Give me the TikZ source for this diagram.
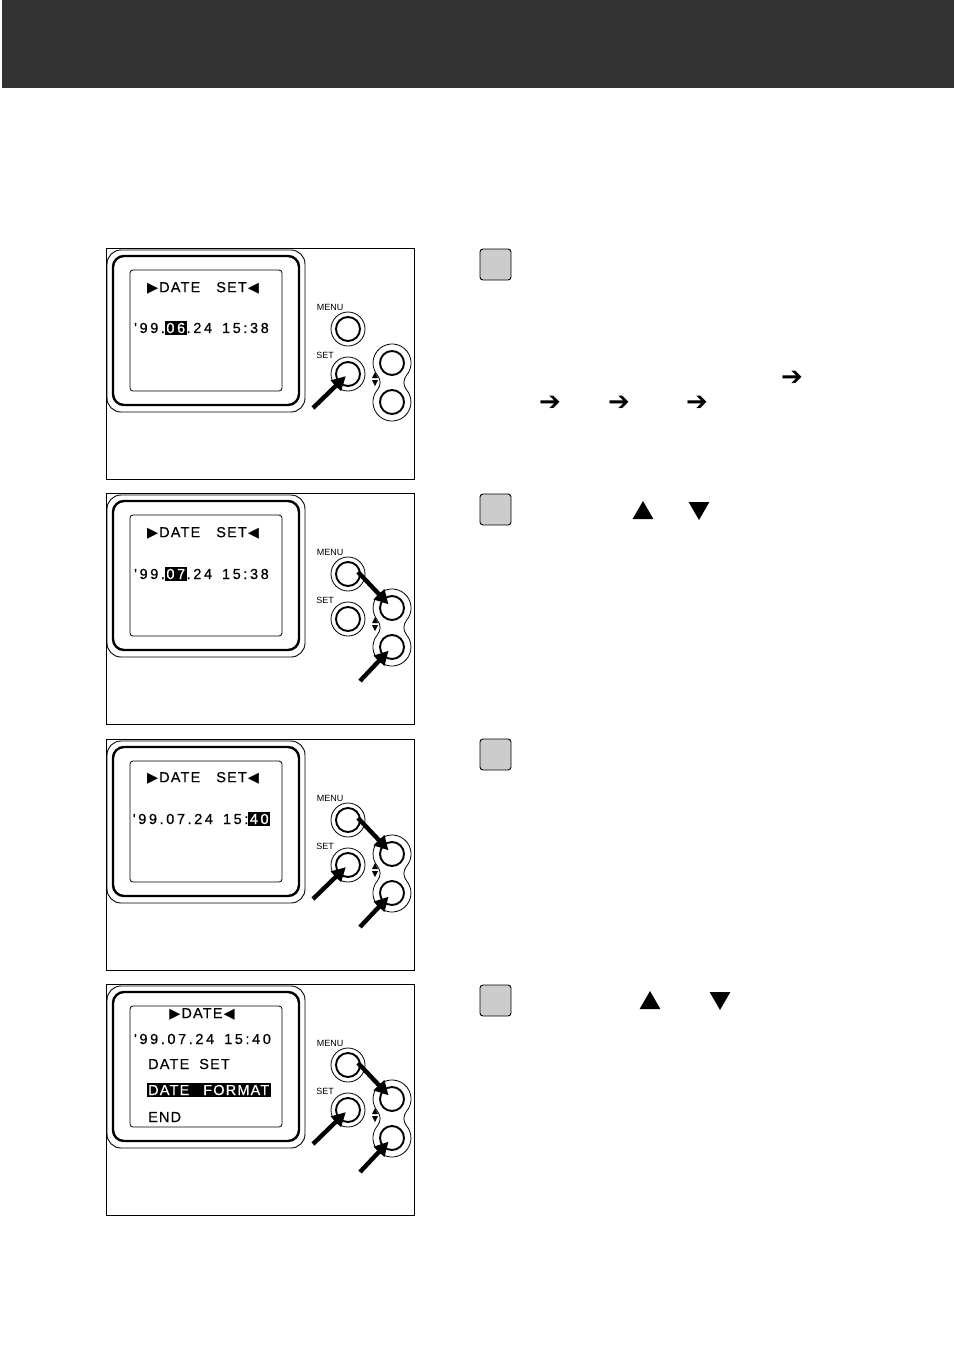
\documentclass[tikz,border=0pt]{standalone}
\usepackage{xcolor}
\usepackage{tikz}
\usepackage{fontspec}
\setmainfont{Liberation Sans}
\newfontfamily\lcdfont{Liberation Sans}[LetterSpace=8, FakeBold=0.5]
\newfontfamily\lcdnum{Liberation Sans}[LetterSpace=18, FakeBold=0.5]
\newfontfamily\symfont{DejaVu Sans}
\definecolor{headergray}{RGB}{51, 51, 51}
\definecolor{stepgray}{RGB}{204, 204, 204}
\usetikzlibrary{shapes.geometric, arrows.meta, positioning}
\newcommand{\hilite}[1]{{\setlength{\fboxsep}{1.5pt}\colorbox{black}{\textcolor{white}{#1}}}}

\begin{document}
\begin{tikzpicture}[
    x=1pt, y=-1pt,
    lcd/.style={inner sep=0pt, font=\lcdfont\fontsize{14.5}{16}\selectfont},
    lcddate/.style={inner sep=0pt, font=\lcdnum\fontsize{14.5}{16}\selectfont},
    btnlabel/.style={inner sep=0pt, font=\fontsize{9}{10}\selectfont},
    btn/.style={circle, draw, line width=1.9pt, minimum size=24pt, inner sep=0pt},
    stepbox/.style={rectangle, draw, fill=stepgray, line width=0.9pt,
                  minimum size=31pt, rounded corners=3pt},
    tri/.style={regular polygon, regular polygon sides=3, fill=black,
                  minimum size=24pt, inner sep=0pt},
    steparrow/.style={inner sep=0pt, font=\symfont\bfseries\fontsize{26}{27}\selectfont},
    press/.style={-{Triangle[length=14pt, width=14pt]}, line width=4.4pt},
    camback/.pic={
        % frame and camera back
        \draw[line width=0.8pt] (0,0) rectangle (308,231);
        \draw[line width=0.9pt, rounded corners=14pt] (1,2) rectangle (199,164);
        \draw[line width=2.4pt, rounded corners=11pt] (7,8) rectangle (193,157);
        \draw[line width=0.8pt, rounded corners=3pt] (24,22) rectangle (176,143);
        % buttons
        \node[btnlabel] (-menulbl) at (224,59) {MENU};
        \node[btnlabel] (-setlbl) at (219,107) {SET};
        \draw[line width=0.8pt] (242,81) circle[radius=17];
        \draw[line width=0.8pt] (242,126) circle[radius=17];
        \node[btn] (-menu) at (242,81) {};
        \node[btn] (-set) at (242,126) {};
        \draw[line width=0.8pt] (300.6,127.2) arc[start angle=40, end angle=-220, radius=19]
            .. controls (275,132) and (275,137) .. (271.4,141.8)
            arc[start angle=220, end angle=-40, radius=19]
            .. controls (297,137) and (297,132) .. cycle;
        \node[btn] (-up) at (286,115) {};
        \node[btn] (-down) at (286,154) {};
        \fill (266,130) -- (272,130) -- (269,124) -- cycle;
        \fill (266,132) -- (272,132) -- (269,138) -- cycle;
        % arrow tails
        \coordinate (-settail) at (207,160);
        \coordinate (-menutail) at (252,79);
        \coordinate (-downtail) at (254,188);
    }
]
    \useasboundingbox (0,0) rectangle (954,1353);
    % Header
    \fill[headergray] (2,0) rectangle (954,88);

    % Panel 1
    \pic (p1) at (106,248) {camback};
    \node[lcd] (p1-title) at (203,288) {{\symfont ▶}\hspace{1pt}DATE\hspace{16pt}SET\hspace{1pt}{\symfont ◀}};
    \node[lcddate] (p1-date) at (201.5,328) {'99.\hilite{06}.24\hspace{10pt}15:38};
    \draw[press, shorten >=3pt] (p1-settail) -- (p1-set.center);

    % Panel 2
    \pic (p2) at (106,493) {camback};
    \node[lcd] (p2-title) at (203,533) {{\symfont ▶}\hspace{1pt}DATE\hspace{16pt}SET\hspace{1pt}{\symfont ◀}};
    \node[lcddate] (p2-date) at (201.5,574) {'99.\hilite{07}.24\hspace{10pt}15:38};
    \draw[press, shorten >=5pt] (p2-menutail) -- (p2-up.center);
    \draw[press, shorten >=5pt] (p2-downtail) -- (p2-down.center);

    % Panel 3
    \pic (p3) at (106,739) {camback};
    \node[lcd] (p3-title) at (203,778) {{\symfont ▶}\hspace{1pt}DATE\hspace{16pt}SET\hspace{1pt}{\symfont ◀}};
    \node[lcddate] (p3-date) at (201.5,819) {'99.07.24\hspace{10pt}15:\hilite{40}};
    \draw[press, shorten >=3pt] (p3-settail) -- (p3-set.center);
    \draw[press, shorten >=5pt] (p3-menutail) -- (p3-up.center);
    \draw[press, shorten >=5pt] (p3-downtail) -- (p3-down.center);

    % Panel 4
    \pic (p4) at (106,984) {camback};
    \node[lcd] (p4-title) at (202,1014) {{\symfont ▶}\hspace{1pt}DATE\hspace{1pt}{\symfont ◀}};
    \node[lcddate] (p4-date) at (202.5,1039) {'99.07.24\hspace{10pt}15:40};
    \node[lcd, anchor=west] (p4-dateset) at (148,1064) {DATE\hspace{10pt}SET};
    \node[lcd, anchor=west] (p4-format) at (146.5,1090) {\hilite{DATE\hspace{14pt}FORMAT}};
    \node[lcd, anchor=west] (p4-end) at (148,1117) {END};
    \draw[press, shorten >=3pt] (p4-settail) -- (p4-set.center);
    \draw[press, shorten >=5pt] (p4-menutail) -- (p4-up.center);
    \draw[press, shorten >=5pt] (p4-downtail) -- (p4-down.center);

    % Steps
    \node[stepbox] (step1) at (495.5,264.5) {};
    \node[stepbox] (step2) at (495.5,509.5) {};
    \node[stepbox] (step3) at (495.5,754.5) {};
    \node[stepbox] (step4) at (495.5,1000.5) {};

    % Step symbols
    \node[steparrow] (s1-arrA) at (792,378) {➔};
    \node[steparrow] (s1-arrB) at (550,403) {➔};
    \node[steparrow] (s1-arrC) at (619,403) {➔};
    \node[steparrow] (s1-arrD) at (697,403) {➔};
    \node[tri] (s2-up) at (643,513) {};
    \node[tri, regular polygon rotate=180] (s2-down) at (699,508) {};
    \node[tri] (s4-up) at (650,1003) {};
    \node[tri, regular polygon rotate=180] (s4-down) at (720,998) {};
\end{tikzpicture}
\end{document}
